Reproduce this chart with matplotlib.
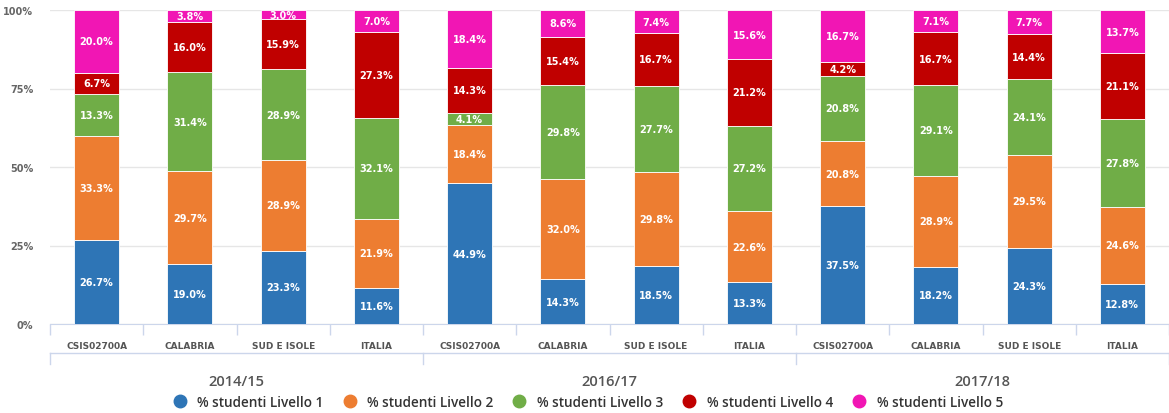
import matplotlib
matplotlib.use("Agg")
import matplotlib.pyplot as plt
from matplotlib.lines import Line2D
import numpy as np

# ── Data ──────────────────────────────────────────────────────────────────────
years = ["2014/15", "2016/17", "2017/18"]
areas = ["CSIS02700A", "CALABRIA", "SUD E ISOLE", "ITALIA"]
categories = [a for _ in years for a in areas]

livello_1 = [26.7, 19.0, 23.3, 11.6, 44.9, 14.3, 18.5, 13.3, 37.5, 18.2, 24.3, 12.8]
livello_2 = [33.3, 29.7, 28.9, 21.9, 18.4, 32.0, 29.8, 22.6, 20.8, 28.9, 29.5, 24.6]
livello_3 = [13.3, 31.4, 28.9, 32.1, 4.1, 29.8, 27.7, 27.2, 20.8, 29.1, 24.1, 27.8]
livello_4 = [6.7, 16.0, 15.9, 27.3, 14.3, 15.4, 16.7, 21.2, 4.2, 16.7, 14.4, 21.1]
livello_5 = [20.0, 3.8, 3.0, 7.0, 18.4, 8.6, 7.4, 15.6, 16.7, 7.1, 7.7, 13.7]

series_names = ["% studenti Livello 1", "% studenti Livello 2", "% studenti Livello 3",
                "% studenti Livello 4", "% studenti Livello 5"]
series = [livello_1, livello_2, livello_3, livello_4, livello_5]
colours = ["#2E75B6", "#ED7D31", "#70AD47", "#C00000", "#F116B4"]

# ── Figure ────────────────────────────────────────────────────────────────────
fig = plt.figure(figsize=(11.69, 4.14), dpi=100)
W, H = 1169, 414
ax = fig.add_axes([50 / W, (H - 325) / H, 1119 / W, 314 / H])

x = np.arange(len(categories))
vals = np.array(series)
totals = vals.sum(axis=0)
pct = vals / totals * 100

bottom = np.zeros(len(categories))
for name, raw, p, col in zip(series_names, series, pct, colours):
    bars = ax.bar(x, p, bottom=bottom, width=0.48, color=col, edgecolor="white",
                  linewidth=0.6, zorder=3)
    ax.bar_label(bars, labels=[f"{v:.1f}%" for v in raw], label_type="center",
                 color="white", fontsize=7, fontweight="bold", zorder=4)
    bottom += p

ax.set_xlim(-0.5, len(categories) - 0.5)
ax.set_ylim(0, 100)
ax.set_yticks([0, 25, 50, 75, 100])
ax.set_yticklabels(["0%", "25%", "50%", "75%", "100%"])
ax.tick_params(axis="y", length=0, pad=12, labelsize=7, labelcolor="#666666")
for lbl in ax.get_yticklabels():
    lbl.set_fontweight("bold")
ax.grid(axis="y", color="#e6e6e6", linewidth=1, zorder=0)

ax.set_xticks(x)
ax.set_xticklabels(categories)
ax.tick_params(axis="x", which="major", length=0, pad=12, labelsize=6.5, labelcolor="#555555")
for lbl in ax.get_xticklabels():
    lbl.set_fontweight("bold")
ax.set_xticks(np.arange(-0.5, len(categories)), minor=True)
ax.tick_params(axis="x", which="minor", length=8, width=1, color="#ccd6eb", direction="out")

for s in ["top", "right", "left"]:
    ax.spines[s].set_visible(False)
ax.spines["bottom"].set_color("#ccd6eb")

# second-level (year) axis
trans = ax.get_xaxis_transform()
y_line = -29 / 314
ax.plot([-0.5, len(categories) - 0.5], [y_line, y_line], color="#ccd6eb", lw=1,
        transform=trans, clip_on=False)
for i, yr in enumerate(years):
    start = i * len(areas) - 0.5
    ax.plot([start, start], [y_line, y_line - 11 / 314], color="#ccd6eb", lw=1,
            transform=trans, clip_on=False)
    ax.text(start + len(areas) / 2, -57 / 314, yr, transform=trans, ha="center",
            va="center", fontsize=10.5, color="#555555", family="Open Sans",
            fontweight="semibold")
end = len(categories) - 0.5
ax.plot([end, end], [y_line, y_line - 11 / 314], color="#ccd6eb", lw=1,
        transform=trans, clip_on=False)

handles = [Line2D([], [], marker="o", linestyle="none", markersize=9,
                  markerfacecolor=c, markeredgecolor=c) for c in colours]
fig.legend(handles, series_names, loc="center", bbox_to_anchor=(0.5, (H - 403) / H),
           ncol=5, frameon=False, handletextpad=0.3, columnspacing=0.9,
           prop={"family": "Open Sans", "weight": "semibold", "size": 9.8},
           labelcolor="#333333")

fig.savefig("out.png", dpi=100)
